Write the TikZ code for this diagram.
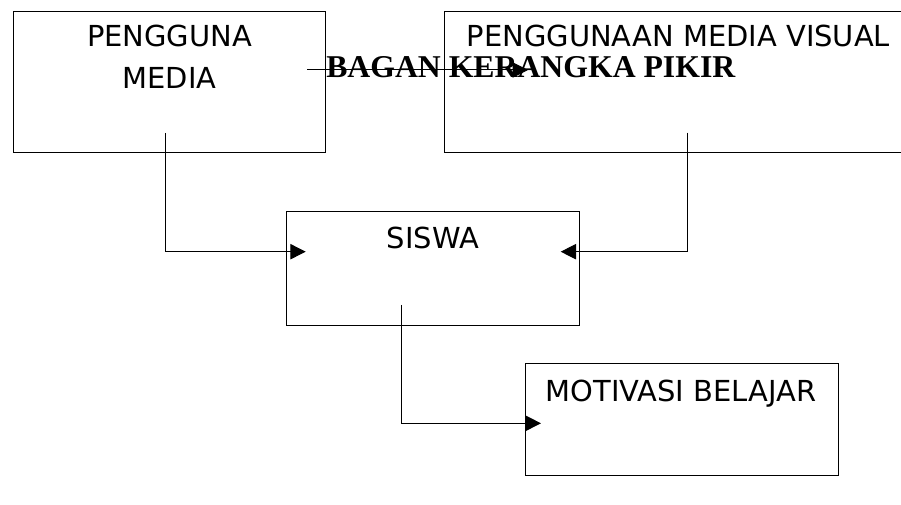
\documentclass[tikz,border=0pt]{standalone}
\usepackage{fontspec}
\setmainfont{DejaVu Sans}
\newfontfamily\titlefont{Liberation Serif}
\usetikzlibrary{arrows.meta,fit}
\begin{document}
\begin{tikzpicture}[x=0.75pt,y=-0.75pt,
  box/.style={draw, line width=0.75pt, inner sep=0pt},
  lbl/.style={anchor=base, inner sep=0pt, font=\fontsize{21.7}{26}\selectfont},
  conn/.style={draw, line width=0.75pt, -{Triangle[length=11.5pt,width=11.5pt]}},
  ]
\useasboundingbox (0,0) rectangle (901,505);
\fill[white] (0,0) rectangle (901,505);
\clip (0,0) rectangle (901,505);
% boxes
\node[box, fit={(13,12) (325.5,152.5)}] (pm) {};
\node[box, fit={(444.3,12) (913,152.3)}] (pmv) {};
\node[box, fit={(286.7,211.7) (579.3,325.7)}] (sis) {};
\node[box, fit={(525.7,363.3) (838.3,476)}] (mot) {};
% labels
\node[lbl] (pm1) at (169.5,46.7) {PENGGUNA};
\node[lbl] (pm2) at (169.5,88.3) {MEDIA};
\node[lbl] (pmvl) at (678.5,46.7) {PENGGUNAAN MEDIA VISUAL};
\node[lbl] (sisl) at (433,249) {SISWA};
\node[lbl] (motl) at (681,401.7) {MOTIVASI BELAJAR};
% connector points
\coordinate (c1s) at (165.7,133);
\coordinate (c1e) at (305.7,251.7);
\coordinate (c2s) at (687,132.7);
\coordinate (c2e) at (560.7,251.7);
\coordinate (c3s) at (401,305);
\coordinate (c3e) at (541,423.3);
\coordinate (t1) at (307,70);
\coordinate (t2) at (528,70);
% title
\node[anchor=base west, inner sep=0pt, font=\titlefont\bfseries\fontsize{23.8}{28}\selectfont] (title) at (326,77.3) {BAGAN KERANGKA PIKIR};
% connectors
\draw[conn] (c1s) |- (c1e);
\draw[conn] (c2s) |- (c2e);
\draw[conn] (c3s) |- (c3e);
\draw[conn] (t1) -- (t2);
\end{tikzpicture}
\end{document}
